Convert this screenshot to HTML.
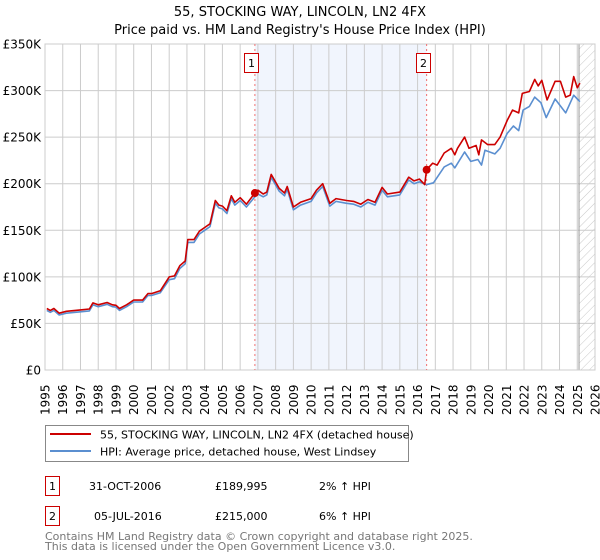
<!DOCTYPE html>
<html><head><meta charset="utf-8"><style>
body{margin:0;background:#fff;}
svg{display:block;font-family:"DejaVu Sans","Liberation Sans",sans-serif;}
</style></head><body>
<svg id="chart" width="600" height="560" viewBox="0 0 600 560" xmlns="http://www.w3.org/2000/svg">
<defs>
<pattern id="hatch" width="6" height="6" patternUnits="userSpaceOnUse" patternTransform="rotate(45)">
<line x1="0" y1="0" x2="0" y2="6" stroke="#bbb" stroke-width="0.8"/>
</pattern>
</defs>
<text x="300" y="16" text-anchor="middle" font-size="13" fill="#000">55, STOCKING WAY, LINCOLN, LN2 4FX</text>
<text x="300" y="34" text-anchor="middle" font-size="13" fill="#000">Price paid vs. HM Land Registry's House Price Index (HPI)</text>
<g id="plot"></g>
<g>
<rect x="45.5" y="425.5" width="363" height="36" fill="#fff" stroke="#888"/>
<line x1="50" y1="434" x2="91" y2="434" stroke="#cc0000" stroke-width="2"/>
<text x="100" y="438.5" font-size="11">55, STOCKING WAY, LINCOLN, LN2 4FX (detached house)</text>
<line x1="50" y1="451" x2="91" y2="451" stroke="#5b8fd0" stroke-width="2"/>
<text x="100" y="455.5" font-size="11">HPI: Average price, detached house, West Lindsey</text>
</g>
<g font-size="11">
<rect x="45.5" y="476.5" width="14" height="19" fill="#fff" stroke="#cc0000"/>
<text x="52.5" y="490" text-anchor="middle">1</text>
<text x="89" y="490">31-OCT-2006</text>
<text x="215" y="490">£189,995</text>
<text x="319" y="490">2% ↑ HPI</text>
<rect x="45.5" y="506.5" width="14" height="19" fill="#fff" stroke="#cc0000"/>
<text x="52.5" y="520" text-anchor="middle">2</text>
<text x="94" y="520">05-JUL-2016</text>
<text x="215" y="520">£215,000</text>
<text x="319" y="520">6% ↑ HPI</text>
</g>
<text x="45" y="540" font-size="11" fill="#777">Contains HM Land Registry data © Crown copyright and database right 2025.</text>
<text x="45" y="550" font-size="11" fill="#777">This data is licensed under the Open Government Licence v3.0.</text>
</svg>
<script>
const yTicks=[0,50000,100000,150000,200000,250000,300000,350000];
const yTickLabels=["£0","£50K","£100K","£150K","£200K","£250K","£300K","£350K"];
const xYears=[1995,1996,1997,1998,1999,2000,2001,2002,2003,2004,2005,2006,2007,2008,2009,2010,2011,2012,2013,2014,2015,2016,2017,2018,2019,2020,2021,2022,2023,2024,2025,2026];
const saleDates=[2006.83,2016.51];
const salePrices=[189995,215000];
const saleLabels=["1","2"];
const priceYears=[1995.1,1995.3,1995.5,1995.8,1996.2,1997.0,1997.5,1997.7,1998.0,1998.5,1998.8,1999.0,1999.2,1999.6,2000.0,2000.5,2000.8,2001.0,2001.5,2002.0,2002.3,2002.6,2002.9,2003.05,2003.4,2003.7,2004.0,2004.3,2004.6,2004.8,2005.0,2005.25,2005.5,2005.7,2006.0,2006.35,2006.83,2007.0,2007.3,2007.5,2007.75,2008.2,2008.5,2008.65,2009.0,2009.4,2010.0,2010.3,2010.65,2011.05,2011.4,2012.0,2012.4,2012.8,2013.2,2013.6,2014.0,2014.3,2015.0,2015.5,2015.8,2016.1,2016.4,2016.51,2016.85,2017.1,2017.5,2017.9,2018.1,2018.25,2018.65,2018.9,2019.3,2019.45,2019.6,2019.95,2020.35,2020.65,2021.05,2021.35,2021.7,2021.9,2022.3,2022.6,2022.8,2023.0,2023.3,2023.75,2024.05,2024.35,2024.6,2024.8,2025.0,2025.15];
const priceValues=[66,64,66,61,63,64.5,65.5,72,70,72.5,70,69.5,66,70,75,75,82,82,85,100,101,112,117,140,140,149,153,157,182,177,176,171,187,180,185,178,190,193,189,191,210,195,190,197,175,180,184,193,200,179,184,182,181,178,183,180,196,189,191,207,203,205,199,215,222,220,233,238,231,238,250,238,241,231,247,242,242,250,268,279,276,297,299,312,305,311,290,310,310,293,295,315,303,308];
const hpiYears=[1995.1,1995.3,1995.5,1995.8,1996.2,1997.0,1997.5,1997.7,1998.0,1998.5,1998.8,1999.0,1999.2,1999.6,2000.0,2000.5,2000.8,2001.0,2001.5,2002.0,2002.3,2002.6,2002.9,2003.05,2003.4,2003.7,2004.0,2004.3,2004.6,2004.8,2005.0,2005.25,2005.5,2005.7,2006.0,2006.35,2006.83,2007.0,2007.3,2007.5,2007.75,2008.2,2008.5,2008.65,2009.0,2009.4,2010.0,2010.3,2010.65,2011.05,2011.4,2012.0,2012.4,2012.8,2013.2,2013.6,2014.0,2014.3,2015.0,2015.5,2015.8,2016.1,2016.51,2016.9,2017.5,2017.9,2018.1,2018.65,2019.0,2019.4,2019.6,2019.8,2020.35,2020.65,2021.05,2021.4,2021.7,2021.95,2022.3,2022.6,2022.95,2023.25,2023.75,2024.35,2024.8,2025.15];
const hpiValues=[64,62,64,59,61,62.5,63.5,70,68,70.5,68,67.5,64,68,73,73,80,80,83,97,98,109,114,137,137,146,150,154,179,174,173,168,184,177,182,175,186,189,186,188,207,192,187,194,172,177,181,190,197,176,181,179,178,175,180,177,193,186,188,204,200,202,199,201,218,222,217,234,224,226,220,236,232,238,254,262,257,279,283,293,287,271,291,276,295,288];

const NS="http://www.w3.org/2000/svg";
const L=45,R=595,T=44,B=370;
const x=y=>L+(y-1995)/(2026-1995)*(R-L);
const yv=v=>B-v/350000*(B-T);
const plot=document.getElementById('plot');
function mk(tag,attrs,parent){const e=document.createElementNS(NS,tag);for(const k in attrs)e.setAttribute(k,attrs[k]);(parent||plot).appendChild(e);return e;}

let e;
e=mk('rect',{x:x(saleDates[0]),y:T,width:x(saleDates[1])-x(saleDates[0]),height:B-T,fill:'#eef3fd',opacity:0.8});


e=mk('rect',{x:x(2025.1),y:T,width:R-x(2025.1),height:B-T,fill:'url(#hatch)'});


xYears.forEach(yr=>{
  const g=mk('line',{x1:x(yr),x2:x(yr),y1:T,y2:B,stroke:'#ccc','stroke-width':1});
  
  
  const t=mk('text',{x:0,y:0,'font-size':12,transform:`translate(${x(yr)+4.5},${B+45}) rotate(-90)`});
  t.textContent=yr;
  
  
});
yTicks.forEach((v,i)=>{
  const g=mk('line',{x1:L,x2:R,y1:yv(v),y2:yv(v),stroke:'#ccc','stroke-width':1});
  
  
  const t=mk('text',{x:L-4,y:yv(v)+4.5,'font-size':12,'text-anchor':'end'});
  t.textContent=yTickLabels[i];
  
  
});
e=mk('line',{x1:x(2025.1),x2:x(2025.1),y1:T,y2:B,stroke:'#999','stroke-width':1});


e=mk('rect',{x:L,y:T,width:R-L,height:B-T,fill:'none',stroke:'#ccc'});


saleDates.forEach((d,i)=>{
  const l=mk('line',{x1:x(d),x2:x(d),y1:T,y2:B,stroke:'#f07070','stroke-width':1,'stroke-dasharray':'2,3'});
  
  
  const r=mk('rect',{x:Math.round(x(d)-11)+0.5,y:53.5,width:14,height:19,fill:'#fff',stroke:'#cc0000'});
  
  
  const t=mk('text',{x:Math.round(x(d)-11)+7.5,y:67,'font-size':11,'text-anchor':'middle'});
  t.textContent=saleLabels[i];
  
  
});
const pts=(xs,vs)=>xs.map((yr,i)=>x(yr).toFixed(1)+','+yv(vs[i]*1000).toFixed(1)).join(' ');
e=mk('polyline',{points:pts(hpiYears,hpiValues),fill:'none',stroke:'#5b8fd0','stroke-width':1.6,'stroke-linejoin':'round'});


e=mk('polyline',{points:pts(priceYears,priceValues),fill:'none',stroke:'#cc0000','stroke-width':1.6,'stroke-linejoin':'round'});


saleDates.forEach((d,i)=>{
  const c=mk('circle',{cx:x(d),cy:yv(salePrices[i]),r:4,fill:'#cc0000'});
  
  
});
</script>
</body></html>
